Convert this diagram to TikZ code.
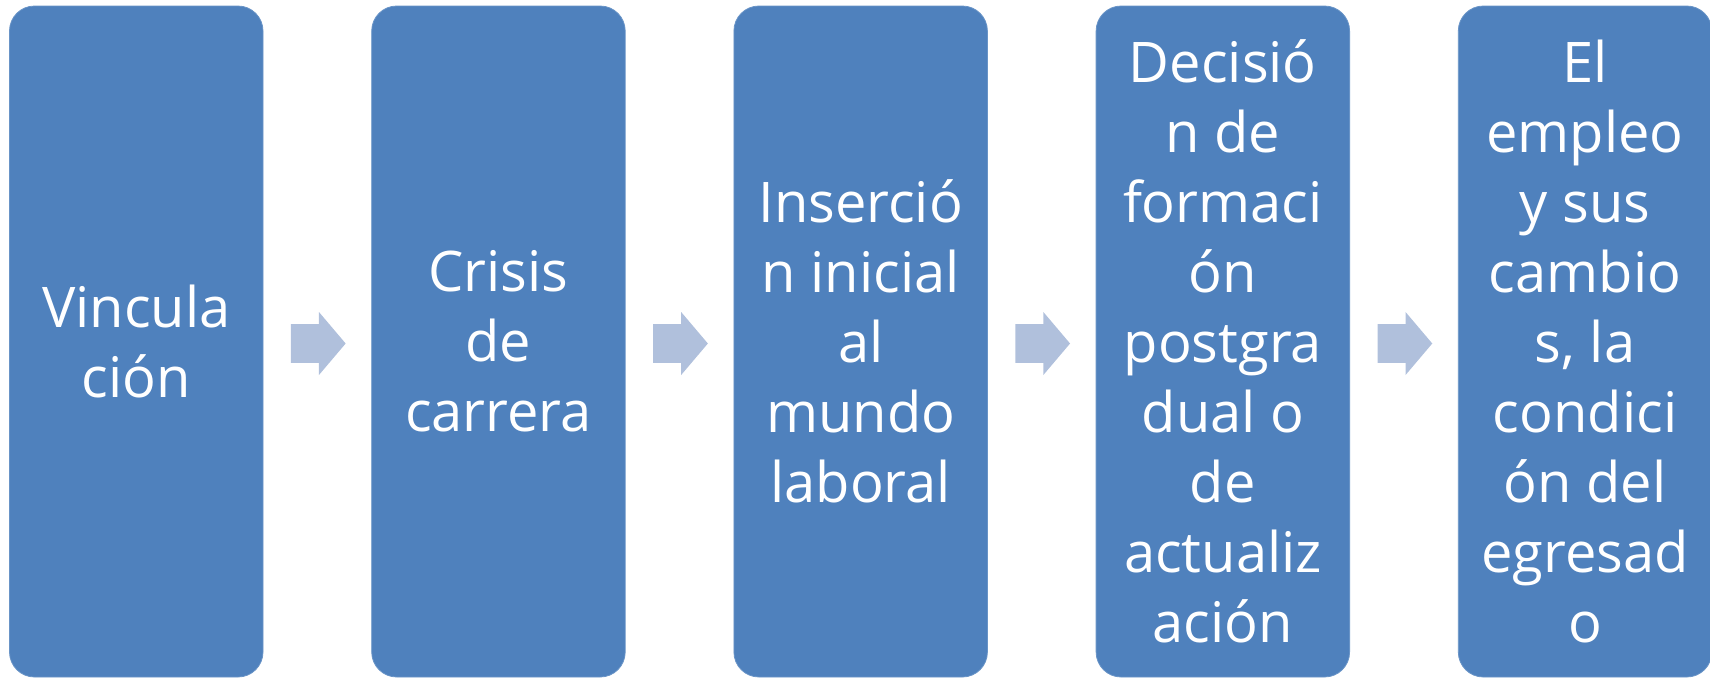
\documentclass[tikz,border=0pt]{standalone}
\usepackage{fontspec}
\setmainfont{Open Sans}
\usetikzlibrary{calc}
\definecolor{boxblue}{HTML}{4F81BD}
\definecolor{arrowblue}{HTML}{B0C0DC}
\tikzset{
  stagebox/.style={rectangle, rounded corners=25pt, fill=boxblue, draw=boxblue!85!white, line width=0.8pt,
    minimum width=253.5pt, minimum height=671pt, inner sep=0pt, text=white, align=center,
    font=\fontsize{56}{70}\selectfont},
  flowarrow/.style={fill=arrowblue, draw=none}
}
\newcommand{\flowarr}[2]{%
  \coordinate (m#1#2) at ($(#1.east)!0.5!(#2.west)+(0.9pt,-2pt)$);
  \path[flowarrow] ($(m#1#2)+(-27.3pt,19.3pt)$) -- ($(m#1#2)+(0.7pt,19.3pt)$) -- ($(m#1#2)+(0.7pt,31.5pt)$)
    -- ($(m#1#2)+(27.4pt,0pt)$) -- ($(m#1#2)+(0.7pt,-31.5pt)$) -- ($(m#1#2)+(0.7pt,-19.3pt)$)
    -- ($(m#1#2)+(-27.3pt,-19.3pt)$) -- cycle;}
\begin{document}
\begin{tikzpicture}[x=1pt,y=1pt]
\useasboundingbox (0,0) rectangle (1710,-678);
\node[stagebox] (b1) at (136.25,-341.5) {Vincula\\ción};
\node[stagebox] (b2) at (498.45,-341.5) {Crisis\\de\\carrera};
\node[stagebox] (b3) at (860.65,-341.5) {Inserció\\n inicial\\al\\mundo\\laboral};
\node[stagebox] (b4) at (1222.85,-341.5) {Decisió\\n de\\formaci\\ón\\postgra\\dual o\\de\\actualiz\\ación};
\node[stagebox] (b5) at (1585.05,-341.5) {El\\empleo\\y sus\\cambio\\s, la\\condici\\ón del\\egresad\\o};
\flowarr{b1}{b2}
\flowarr{b2}{b3}
\flowarr{b3}{b4}
\flowarr{b4}{b5}
\end{tikzpicture}
\end{document}
